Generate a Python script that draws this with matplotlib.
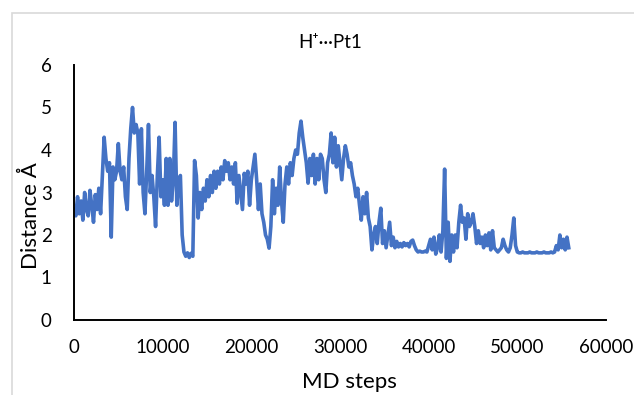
import numpy as np
import matplotlib
matplotlib.use("Agg")
import matplotlib.pyplot as plt
from matplotlib.patches import Rectangle

plt.rcParams['font.family'] = ['Lato', 'DejaVu Sans']

# MD trajectory sampled every 200 steps, H+...Pt1 distance in Angstrom
stride = 200
distance = [
    2.6, 2.45, 2.9, 2.5, 2.8, 2.35, 3.0, 2.6, 2.45, 3.05,      # 0
    2.7, 2.3, 2.95, 2.6, 3.1, 2.5, 3.4, 4.3, 3.8, 3.5,         # 10
    3.7, 1.95, 3.6, 3.3, 3.5, 4.15, 3.5, 3.3, 3.6, 2.9,        # 20
    2.6, 3.8, 4.5, 5.0, 4.4, 4.6, 4.4, 3.2, 4.5, 3.0,          # 30
    2.5, 3.5, 4.6, 3.0, 3.4, 2.9, 2.2, 3.4, 4.3, 2.9,          # 40
    3.3, 2.7, 3.8, 2.7, 3.8, 2.8, 3.3, 4.65, 2.7, 3.3,         # 50
    3.4, 2.0, 1.6, 1.5, 1.58, 1.47, 1.57, 1.5, 3.75, 3.4,      # 60
    2.4, 3.0, 2.6, 3.1, 2.8, 3.3, 2.9, 3.4, 3.0, 3.5,          # 70
    3.1, 3.5, 3.2, 3.6, 3.3, 3.75, 3.5, 3.7, 3.3, 3.6,         # 80
    3.2, 3.7, 2.75, 3.4, 3.0, 2.6, 3.45, 3.2, 3.5, 2.7,        # 90
    3.3, 3.6, 3.9, 3.3, 2.6, 3.2, 2.5, 2.3, 2.0, 1.9,          # 100
    1.69, 2.2, 3.3, 2.5, 3.1, 2.7, 3.6, 2.8, 2.3, 3.2,         # 110
    3.6, 3.2, 3.7, 3.4, 3.8, 4.0, 3.9, 4.4, 4.68, 4.3,         # 120
    4.0, 3.7, 3.22, 3.8, 3.4, 3.9, 3.2, 3.8, 3.3, 3.9,         # 130
    3.8, 3.3, 3.0, 3.7, 3.9, 4.4, 3.7, 4.3, 3.6, 4.1,          # 140
    3.7, 3.3, 3.8, 4.1, 3.9, 3.6, 3.7, 3.4, 3.2, 2.9,          # 150
    3.1, 2.7, 2.35, 2.9, 2.5, 3.0, 2.4, 2.2, 1.65, 2.0,        # 160
    2.2, 1.8, 2.3, 2.63, 1.8, 2.1, 1.7, 2.0, 2.3, 1.75,        # 170
    1.95, 1.7, 1.85, 1.72, 1.8, 1.72, 1.82, 1.75, 1.8, 1.72,   # 180
    1.85, 1.88, 1.75, 1.65, 1.6, 1.62, 1.6, 1.6, 1.62, 1.6,    # 190
    1.75, 1.9, 1.65, 1.95, 1.55, 1.7, 2.0, 1.6, 2.1, 3.55,     # 200
    1.45, 2.3, 1.38, 2.0, 1.6, 2.0, 1.7, 2.3, 2.7, 2.3,        # 210
    2.4, 1.9, 2.5, 2.2, 2.3, 2.5, 2.2, 1.8, 2.1, 1.8,          # 220
    1.95, 1.7, 2.0, 1.75, 2.05, 1.65, 2.1, 1.7, 1.65, 1.6,     # 230
    1.65, 1.7, 1.9, 1.75, 1.65, 1.6, 1.7, 2.0, 2.4, 1.75,      # 240
    1.6, 1.58, 1.58, 1.6, 1.58, 1.58, 1.58, 1.6, 1.58, 1.58,   # 250
    1.58, 1.6, 1.58, 1.58, 1.58, 1.6, 1.58, 1.58, 1.58, 1.6,   # 260
    1.58, 1.6, 1.75, 1.65, 2.0, 1.7, 1.9, 1.65, 1.95, 1.7,     # 270
]
steps = np.arange(len(distance)) * stride

xticks = [0, 10000, 20000, 30000, 40000, 50000, 60000]
yticks = [0, 1, 2, 3, 4, 5, 6]

fig = plt.figure(figsize=(6.34, 3.95), dpi=100)
# chart-area border (cropped on right/bottom)
fig.patches.append(Rectangle((12 / 634, -0.1), 1.2, 1.1 - 13 / 395,
                             transform=fig.transFigure, fill=False,
                             edgecolor="#D9D9D9", linewidth=1.2))

ax = fig.add_axes([74 / 634, 75 / 395, 532 / 634, 255 / 395])
ax.plot(steps, distance, color="#4472C4", linewidth=2.6, solid_joinstyle="round")

ax.set_xlim(0, 60000)
ax.set_ylim(0, 6)
ax.set_xticks(xticks)
ax.set_yticks(yticks)
ax.tick_params(length=0, labelsize=13.5, colors="#000000")
ax.tick_params(axis="x", pad=14)
ax.tick_params(axis="y", pad=16)
for side in ("top", "right"):
    ax.spines[side].set_visible(False)
for side in ("left", "bottom"):
    ax.spines[side].set_linewidth(1.4)
    ax.spines[side].set_color("#000000")

ax.set_xlabel("MD steps", fontsize=16)
ax.xaxis.set_label_coords(0.517, -0.205)
ax.set_ylabel("Distance Å", fontsize=16)
ax.yaxis.set_label_coords(-0.062, 0.41)
fig.text(330 / 634, 1 - 43 / 395, "H⁺···Pt1", ha="center", va="center", fontsize=13.5)

fig.savefig("out.png", dpi=100)
